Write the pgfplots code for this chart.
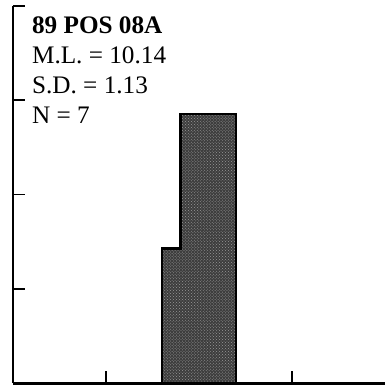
\documentclass[border=0pt]{standalone}
\usepackage{pgfplots}
\pgfplotsset{compat=1.18}
\usepackage{fontspec}
\setmainfont{Liberation Serif}
\usetikzlibrary{patterns}
\begin{document}
\begin{tikzpicture}
\begin{axis}[
  scale only axis,
  width=375bp, height=380bp,
  xmin=0, xmax=20, ymin=0, ymax=40,
  axis x line=bottom, axis y line=left,
  axis line style={-, black},
  x axis line style={line width=2.6bp},
  y axis line style={line width=1.8bp},
  xtick={5,10,15}, ytick={10,20,30,40},
  xticklabels={}, yticklabels={},
  tick align=inside,
  major tick length=12bp,
  tick style={black, line width=1.8bp},
  clip=false,
]
\addplot[const plot, fill=black!76, draw=black, line width=2.2bp,
  postaction={pattern=crosshatch dots, pattern color=white!60!black}]
  coordinates {(8,0) (8,14.29) (9,28.57) (12,28.57) (12,0)} -- cycle;
\node[anchor=north west, inner sep=0pt, align=left,
  font=\fontsize{25.5}{30.5}\selectfont]
  at (rel axis cs:0.051,0.972)
  {\textbf{89 POS 08A}\\M.L. = 10.14\\S.D. = 1.13\\N = 7};
\end{axis}
\path ([xshift=-13bp,yshift=-4bp]current axis.south west) rectangle ([yshift=6bp]current axis.north east);
\end{tikzpicture}
\end{document}
